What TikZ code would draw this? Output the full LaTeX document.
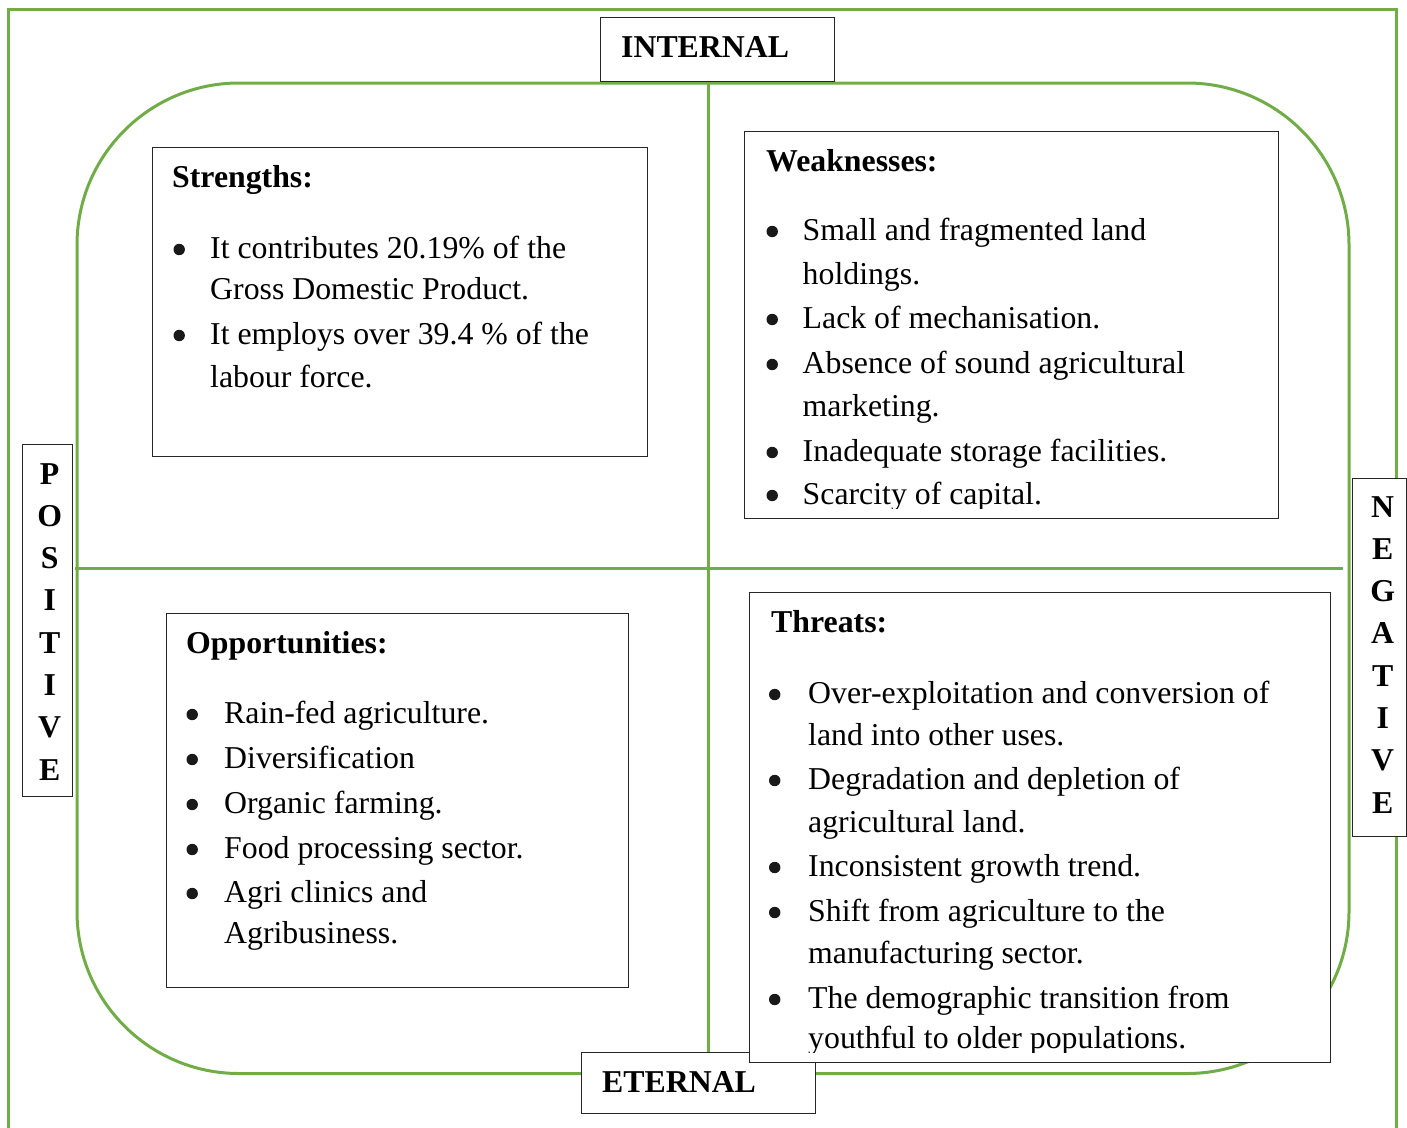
\documentclass[tikz,border=0pt]{standalone}
\usepackage{fontspec}
\setmainfont{Liberation Serif}
\definecolor{grn}{HTML}{70AD47}
\newcommand{\mystack}[1]{\vtop{\baselineskip=0pt\lineskip=0pt\lineskiplimit=-\maxdimen #1}}
\newcommand{\myhd}[2]{\hbox{\kern#1pt\bfseries #2}}
\newcommand{\mybul}{\tikz[baseline=0pt]\fill[black!90] (0pt,8.5pt) circle[radius=5.7pt];}
\newcommand{\mybi}[2]{\hbox{\llap{\mybul\kern#1pt}#2}}
\newcommand{\mycl}[1]{\hbox{#1}}
\newcommand{\mysk}[1]{\vskip#1pt}
\newcommand{\myvl}[1]{\hbox to 0pt{\hss\bfseries #1\hss}\vskip42.3pt}
\begin{document}
\begin{tikzpicture}[x=1pt,y=-1pt,
  grline/.style={draw=grn, line width=3pt},
  box/.style={draw=black!85, line width=1.3pt, fill=white, anchor=north west, inner sep=0pt},
  txt/.style={font=\fontsize{31.8pt}{38pt}\selectfont, inner sep=0pt, anchor=base west, text=black},
]
\useasboundingbox (0,0) rectangle (1407,1127);
\clip (0,0) rectangle (1407,1127);

% outer frame and inner rounded frame
\draw[grline] (8.5,9.5) rectangle (1396.5,1160);
\draw[grline, rounded corners=162pt] (77,83) rectangle (1349,1073.5);
\coordinate (vt) at (708,81);
\coordinate (vb) at (708,1052);
\coordinate (hl) at (75,568);
\coordinate (hr) at (1343,568);
\draw[grline] (vt) -- (vb);
\draw[grline] (hl) -- (hr);

% axis labels
\node[box, minimum width=234pt, minimum height=64pt] (IN) at (600,17) {};
\node[txt] (INt) at (621,57) {\bfseries INTERNAL};
\node[box, minimum width=234pt, minimum height=61pt] (ET) at (581,1052) {};
\node[txt] (ETt) at (602,1092) {\bfseries ETERNAL};
\node[box, minimum width=50pt, minimum height=352pt] (PO) at (22,444) {};
\node[txt] (POt) at (49,484) {\mystack{\myvl{P}\myvl{O}\myvl{S}\myvl{I}\myvl{T}\myvl{I}\myvl{V}\myvl{E}}};
\node[box, minimum width=54pt, minimum height=358pt] (NE) at (1352,478) {};
\node[txt] (NEt) at (1382,517) {\mystack{\myvl{N}\myvl{E}\myvl{G}\myvl{A}\myvl{T}\myvl{I}\myvl{V}\myvl{E}}};

% Strengths
\node[box, minimum width=495pt, minimum height=309pt] (S) at (152,147) {};
\node[txt] (St) at (210,187) {\mystack{%
  \myhd{-38}{Strengths:}%
  \mysk{71}\mybi{25.3}{It contributes 20.19\% of the}%
  \mysk{41}\mycl{Gross Domestic Product.}%
  \mysk{45}\mybi{25.3}{It employs over 39.4 \% of the}%
  \mysk{43}\mycl{labour force.}}};

% Weaknesses
\node[box, minimum width=534pt, minimum height=387pt] (W) at (744,131) {};
\begin{scope}
\clip (744,131) rectangle (1278,508);
\node[txt] (Wt) at (802.5,171) {\mystack{%
  \myhd{-36.5}{Weaknesses:}%
  \mysk{69}\mybi{24.8}{Small and fragmented land}%
  \mysk{44}\mycl{holdings.}%
  \mysk{44}\mybi{24.8}{Lack of mechanisation.}%
  \mysk{45}\mybi{24.8}{Absence of sound agricultural}%
  \mysk{43}\mycl{marketing.}%
  \mysk{45}\mybi{24.8}{Inadequate storage facilities.}%
  \mysk{43}\mybi{24.8}{Scarcity of capital.}}};
\end{scope}

% Opportunities
\node[box, minimum width=462pt, minimum height=374pt] (O) at (166,613) {};
\node[txt] (Ot) at (224,653) {\mystack{%
  \myhd{-38}{Opportunities:}%
  \mysk{70}\mybi{26.3}{Rain-fed agriculture.}%
  \mysk{45}\mybi{26.3}{Diversification}%
  \mysk{45}\mybi{26.3}{Organic farming.}%
  \mysk{45}\mybi{26.3}{Food processing sector.}%
  \mysk{44}\mybi{26.3}{Agri clinics and}%
  \mysk{41}\mycl{Agribusiness.}}};

% Threats
\node[box, minimum width=581pt, minimum height=470pt] (T) at (749,592) {};
\begin{scope}
\clip (749,592) rectangle (1330,1052);
\node[txt] (Tt) at (808,632) {\mystack{%
  \myhd{-37}{Threats:}%
  \mysk{71}\mybi{27.8}{Over-exploitation and conversion of}%
  \mysk{42}\mycl{land into other uses.}%
  \mysk{44}\mybi{27.8}{Degradation and depletion of}%
  \mysk{43}\mycl{agricultural land.}%
  \mysk{44}\mybi{27.8}{Inconsistent growth trend.}%
  \mysk{45}\mybi{27.8}{Shift from agriculture to the}%
  \mysk{42}\mycl{manufacturing sector.}%
  \mysk{45}\mybi{27.8}{The demographic transition from}%
  \mysk{40}\mycl{youthful to older populations.}}};
\end{scope}
\end{tikzpicture}
\end{document}
